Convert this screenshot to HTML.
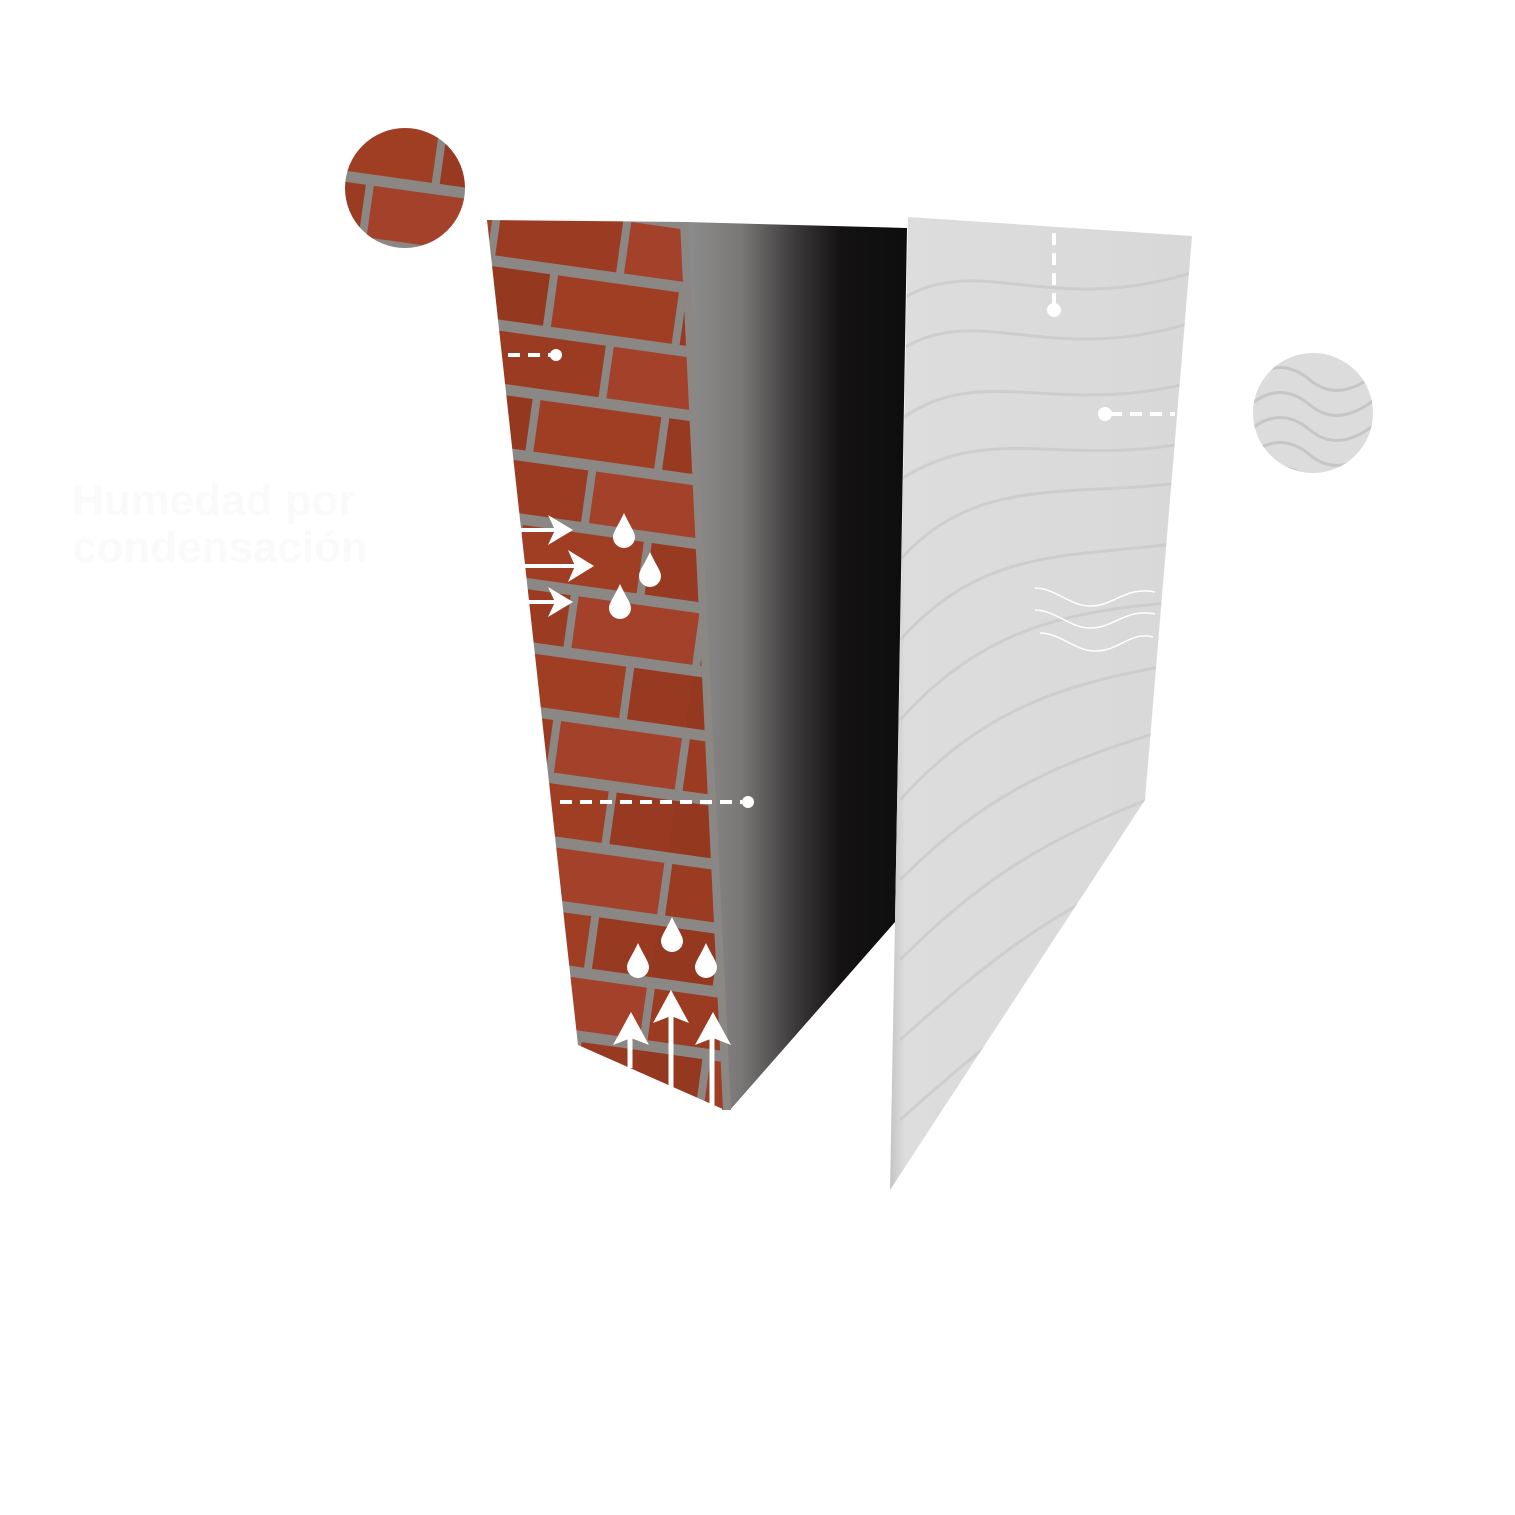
<!DOCTYPE html>
<html><head><meta charset="utf-8"><style>
html,body{margin:0;padding:0;background:#fff;}
svg{display:block}
</style></head><body>
<svg width="1515" height="1515" viewBox="0 0 1515 1515" xmlns="http://www.w3.org/2000/svg">
<defs>
<linearGradient id="dark" x1="0" y1="0" x2="1" y2="0">
<stop offset="0" stop-color="#8c8c8c"/>
<stop offset="0.25" stop-color="#7a7877"/>
<stop offset="0.5" stop-color="#3a3838"/>
<stop offset="0.7" stop-color="#141212"/>
<stop offset="1" stop-color="#0e0e0e"/>
</linearGradient>
<linearGradient id="pan" x1="0" y1="0" x2="1" y2="0">
<stop offset="0" stop-color="#c4c4c4"/>
<stop offset="0.05" stop-color="#dddddd"/>
<stop offset="1" stop-color="#d8d8d8"/>
</linearGradient>
<pattern id="brick" width="260" height="126" patternUnits="userSpaceOnUse" patternTransform="rotate(8)">
<rect width="260" height="126" fill="#8a8784"/>
<rect x="6" y="6" width="122" height="52" fill="#9a3b22"/>
<rect x="136" y="6" width="122" height="52" fill="#a3412a"/>
<rect x="-59" y="69" width="122" height="52" fill="#953820"/>
<rect x="71" y="69" width="122" height="52" fill="#a03e24"/>
<rect x="201" y="69" width="122" height="52" fill="#983a22"/>
</pattern>
<clipPath id="c1"><circle cx="405" cy="188" r="60"/></clipPath>
<clipPath id="c2"><circle cx="1313" cy="413" r="60"/></clipPath>
<clipPath id="pc"><polygon points="908,217 1192,236 1145,800 890,1190"/></clipPath>
</defs>

<text x="72" y="515" font-family="Liberation Sans, sans-serif" font-weight="bold" font-size="44" fill="#fafafa">Humedad por</text>
<text x="72" y="562" font-family="Liberation Sans, sans-serif" font-weight="bold" font-size="44" fill="#fafafa">condensación</text>

<!-- brick circle -->
<g clip-path="url(#c1)">
<rect x="340" y="120" width="140" height="140" fill="url(#brick)"/>
</g>
<!-- wave circle -->
<g clip-path="url(#c2)">
<rect x="1250" y="350" width="130" height="130" fill="#dcdcdc"/>
<g fill="none" stroke="#c6c6c6" stroke-width="3">
<path d="M1250,380 q30,-25 60,0 t70,-10"/>
<path d="M1250,405 q30,-25 60,0 t70,-10"/>
<path d="M1250,430 q30,-25 60,0 t70,-10"/>
<path d="M1250,455 q30,-25 60,0 t70,-10"/>
<path d="M1250,480 q30,-25 60,0 t70,-10"/>
</g>
</g>

<!-- dark face -->
<polygon points="686,222 907,228 895,922 730,1110 722,1110" fill="url(#dark)"/>
<!-- brick face -->
<polygon points="487,220 686,222 730,1110 725,1110 578,1045" fill="url(#brick)"/>
<polygon points="680,222 688,222 731,1110 723,1110" fill="#8a8784"/>

<!-- panel -->
<polygon points="908,217 1192,236 1145,800 890,1190" fill="url(#pan)"/>
<g clip-path="url(#pc)" fill="none" stroke="#c8c8c8" stroke-width="3" opacity="0.7">
<path d="M900,300 C980,250 1050,320 1200,270"/>
<path d="M900,350 C980,300 1050,370 1200,320"/>
<path d="M900,420 C980,360 1060,420 1200,380"/>
<path d="M900,480 C990,420 1070,470 1200,440"/>
<path d="M900,560 C980,470 1080,500 1200,480"/>
<path d="M900,640 C990,540 1080,560 1200,540"/>
<path d="M900,720 C990,620 1080,610 1200,600"/>
<path d="M900,800 C990,700 1080,680 1200,660"/>
<path d="M900,880 C990,790 1060,760 1200,720"/>
<path d="M900,960 C990,870 1060,830 1200,780"/>
<path d="M900,1040 C990,960 1060,900 1200,850"/>
<path d="M900,1120 C990,1040 1060,980 1200,920"/>
</g>

<!-- annotations -->
<g stroke="#fff" stroke-width="4" fill="none" stroke-dasharray="12,8">
<line x1="508" y1="355" x2="552" y2="355"/>
<line x1="560" y1="802" x2="742" y2="802"/>
<line x1="1054" y1="233" x2="1054" y2="305"/>
<line x1="1110" y1="414" x2="1175" y2="414"/>
</g>
<g fill="#fff">
<circle cx="556" cy="355" r="6"/>
<circle cx="748" cy="802" r="6"/>
<circle cx="1054" cy="310" r="7"/>
<circle cx="1105" cy="414" r="7"/>
</g>

<!-- horizontal arrows -->
<g stroke="#fff" stroke-width="4" fill="#fff">
<line x1="518" y1="530" x2="560" y2="530"/>
<line x1="518" y1="566" x2="580" y2="566"/>
<line x1="528" y1="602" x2="560" y2="602"/>
</g>
<g fill="#fff">
<polygon points="573,530 548,515 555,530 548,545"/>
<polygon points="594,566 568,550 575,566 568,582"/>
<polygon points="573,602 548,587 555,602 548,617"/>
</g>
<!-- drops -->
<g fill="#fff">
<path d="M624,513 C618,526 613,532 613,537 a11,11 0 0 0 22,0 C635,532 630,526 624,513Z"/>
<path d="M650,552 C644,565 639,571 639,576 a11,11 0 0 0 22,0 C661,571 656,565 650,552Z"/>
<path d="M620,584 C614,597 609,603 609,608 a11,11 0 0 0 22,0 C631,603 626,597 620,584Z"/>
<path d="M672,917 C666,930 661,936 661,941 a11,11 0 0 0 22,0 C683,936 678,930 672,917Z"/>
<path d="M638,943 C632,956 627,962 627,967 a11,11 0 0 0 22,0 C649,962 644,956 638,943Z"/>
<path d="M706,943 C700,956 695,962 695,967 a11,11 0 0 0 22,0 C717,962 712,956 706,943Z"/>
</g>
<!-- vertical arrows -->
<g stroke="#fff" stroke-width="5">
<line x1="630" y1="1030" x2="630" y2="1068"/>
<line x1="671" y1="1010" x2="671" y2="1088"/>
<line x1="712" y1="1030" x2="712" y2="1105"/>
</g>
<g fill="#fff">
<polygon points="631,1012 613,1045 631,1038 649,1045"/>
<polygon points="671,990 653,1023 671,1016 689,1023"/>
<polygon points="713,1012 695,1045 713,1038 731,1045"/>
</g>
<!-- wavy lines -->
<g fill="none" stroke="#fff" stroke-width="1.5">
<path d="M1035,588 C1055,588 1070,606 1090,606 C1115,606 1125,586 1155,592"/>
<path d="M1035,610 C1055,610 1070,628 1090,628 C1115,628 1125,608 1155,614"/>
<path d="M1040,633 C1060,633 1075,651 1095,651 C1120,651 1130,631 1153,637"/>
</g>
</svg>
</body></html>
